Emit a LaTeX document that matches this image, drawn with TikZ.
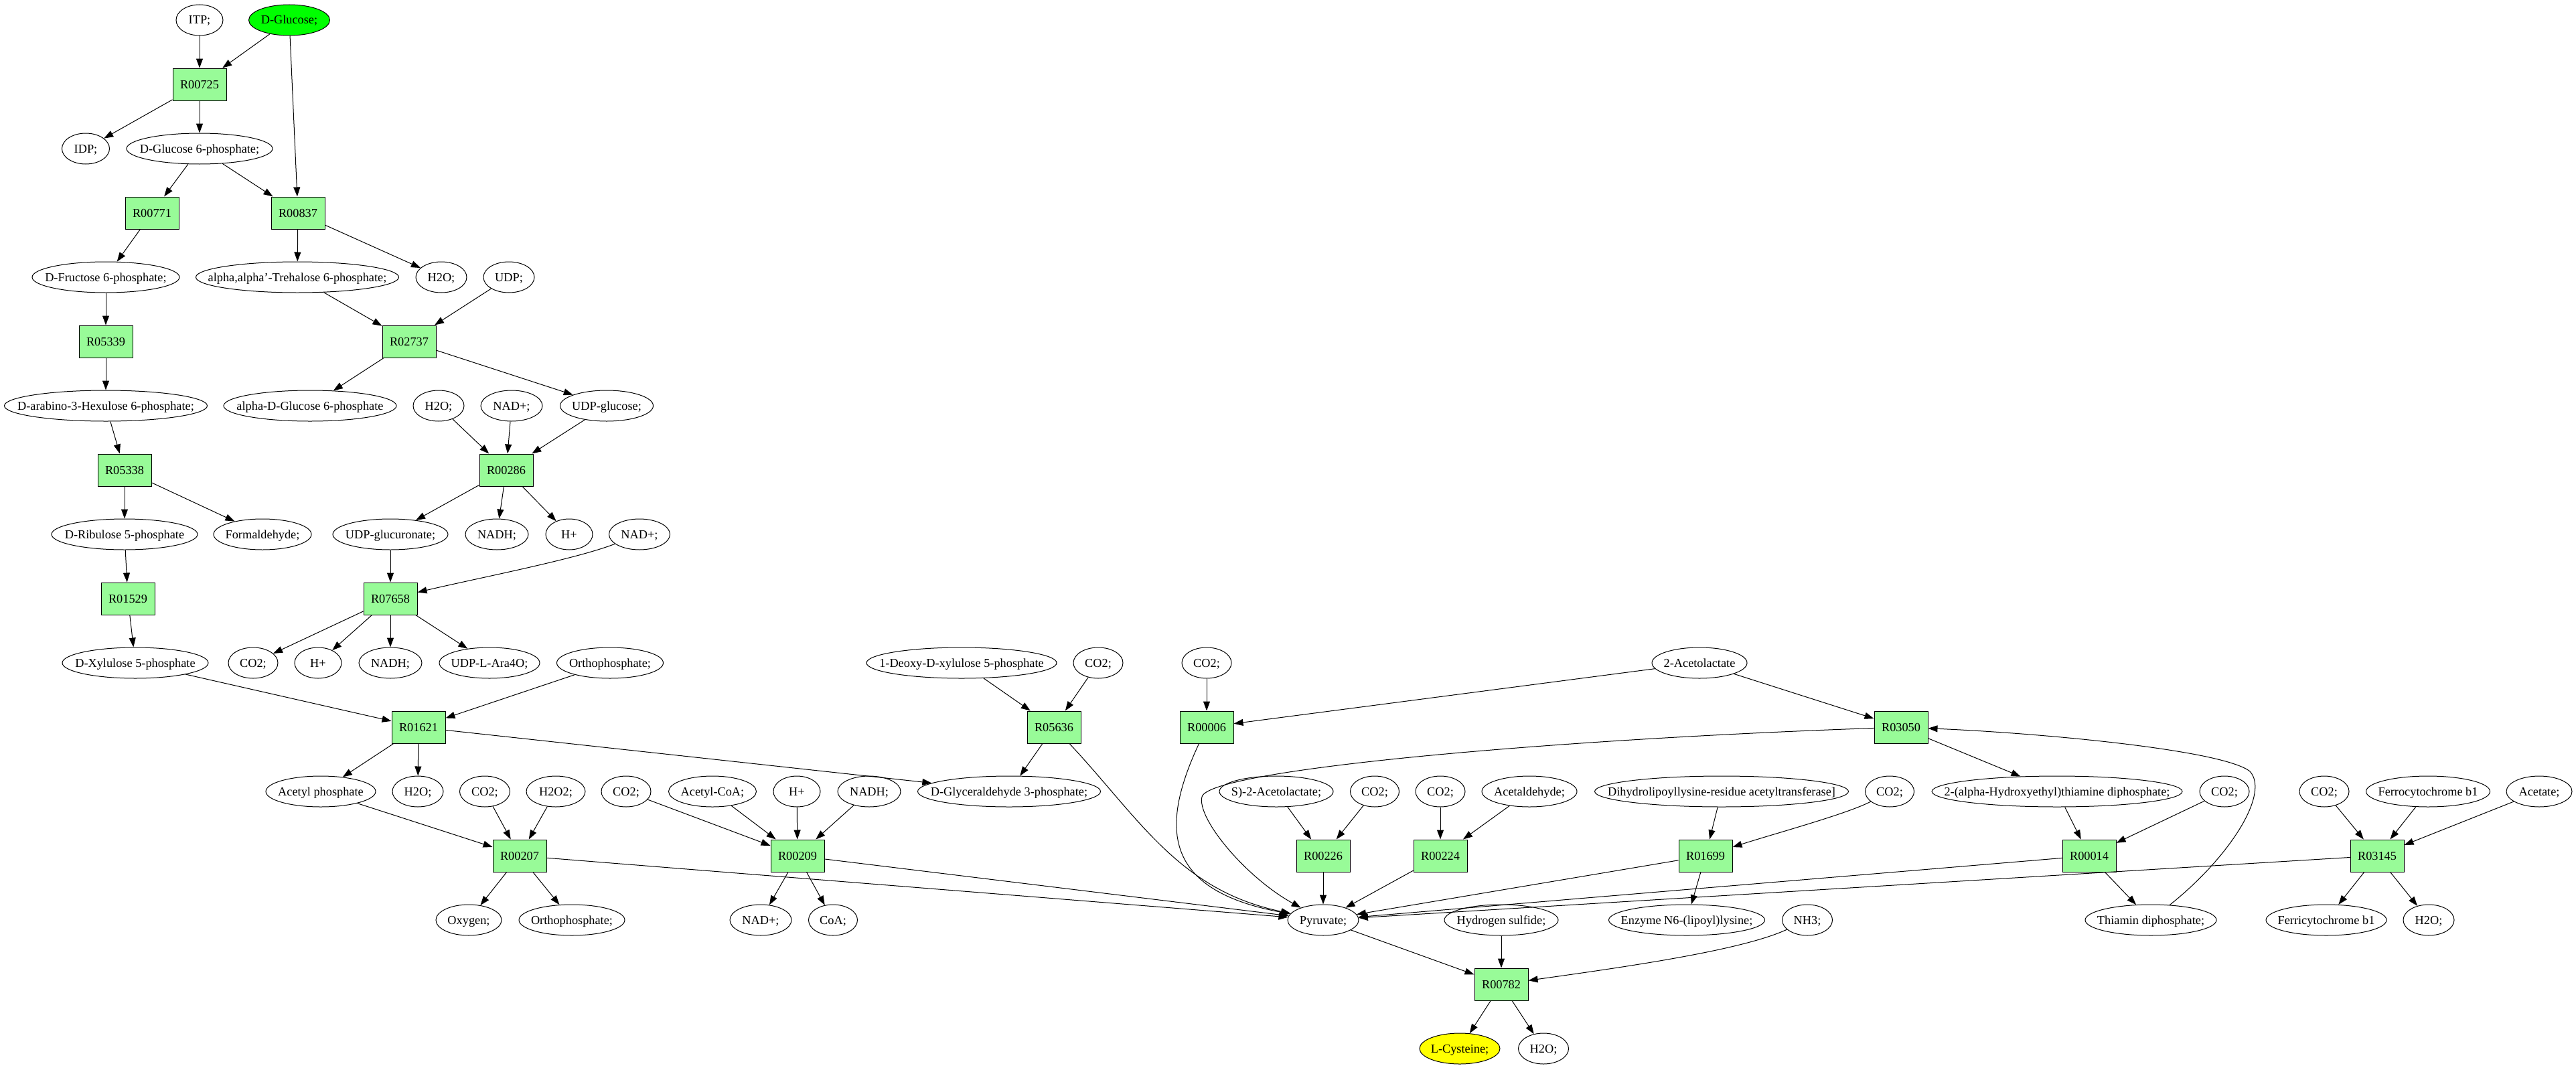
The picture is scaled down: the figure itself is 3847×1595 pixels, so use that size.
\documentclass[tikz,border=0pt]{standalone}
\usepackage{fontspec}
\setmainfont{Liberation Serif}
\usetikzlibrary{shapes.geometric,arrows.meta}
\definecolor{boxgreen}{HTML}{98FB98}
\definecolor{glc}{HTML}{00FF00}
\definecolor{cys}{HTML}{FFFF00}
\tikzset{
  met/.style={ellipse, draw, line width=1pt, minimum height=46pt, inner sep=0pt,
    text height=13pt, text depth=1pt, font=\fontsize{18.3}{20}\selectfont},
  rxn/.style={rectangle, draw, line width=1pt, fill=boxgreen, minimum width=80pt,
    minimum height=48pt, inner sep=0pt, text height=13pt, text depth=1pt,
    font=\fontsize{18.3}{20}\selectfont},
  arr/.style={-{Triangle[length=14pt,width=10pt]}, line width=1pt},
}
\newcommand{\metab}[5][]{\node[met,minimum width=#4pt,#1] (#2) at (#3) {\makebox[0pt]{#5}};}
\newcommand{\react}[2]{\node[rxn] (#1) at (#2) {#1};}
\begin{document}
\begin{tikzpicture}[x=1pt,y=-1pt]
\fill[white] (0,0) rectangle (3847,1595);
\path[use as bounding box] (0,0) rectangle (3847,1595);
% nodes
\metab{ITP}{298,30}{70}{ITP;}
\metab[fill=glc]{DGlc}{432,30}{121}{D-Glucose;}
\react{R00725}{298,126}
\metab{IDP}{128,222}{71}{IDP;}
\metab{DG6P}{298,222}{218}{D-Glucose 6-phosphate;}
\react{R00771}{227,318}
\react{R00837}{445,318}
\metab{DF6P}{158,414}{220}{D-Fructose 6-phosphate;}
\metab{Tre6P}{444,414}{303}{alpha,alpha'-Trehalose 6-phosphate;}
\metab{H2Oa}{659,414}{76}{H2O;}
\metab{UDP}{760,414}{76}{UDP;}
\react{R05339}{158,510}
\react{R02737}{611,510}
\metab{DA3H6P}{158,606}{303}{D-arabino-3-Hexulose 6-phosphate;}
\metab{aDG6P}{463,606}{258}{alpha-D-Glucose 6-phosphate}
\metab{H2Ob}{655,606}{76}{H2O;}
\metab{NADa}{764,606}{92}{NAD+;}
\metab{UDPG}{906,606}{139}{UDP-glucose;}
\react{R05338}{186,702}
\react{R00286}{756,702}
\metab{DRu5P}{186,798}{218}{D-Ribulose 5-phosphate}
\metab{HCHO}{392,798}{146}{Formaldehyde;}
\metab{UDPGA}{583,798}{172}{UDP-glucuronate;}
\metab{NADHa}{742,798}{94}{NADH;}
\metab{Ha}{850,798}{70}{H+}
\metab{NADb}{955,798}{91}{NAD+;}
\react{R01529}{191,894}
\react{R07658}{583,894}
\metab{DXu5P}{202,990}{218}{D-Xylulose 5-phosphate}
\metab{CO2a}{378,990}{74}{CO2;}
\metab{Hb}{475,990}{70}{H+}
\metab{NADHb}{583,990}{94}{NADH;}
\metab{UDPLA}{731,990}{150}{UDP-L-Ara4O;}
\metab{Pia}{911,990}{159}{Orthophosphate;}
\metab{DXP}{1436,990}{284}{1-Deoxy-D-xylulose 5-phosphate}
\metab{CO2b}{1640,990}{74}{CO2;}
\metab{CO2c}{1802,990}{74}{CO2;}
\metab{AcLac}{2538,990}{142}{2-Acetolactate}
\react{R01621}{625,1086}
\react{R05636}{1574,1086}
\react{R00006}{1802,1086}
\react{R03050}{2839,1086}
\metab{AcP}{479,1182}{164}{Acetyl phosphate}
\metab{H2Oc}{624,1182}{76}{H2O;}
\metab{CO2d}{724,1182}{75}{CO2;}
\metab{H2O2}{830,1182}{88}{H2O2;}
\metab{CO2e}{935,1182}{74}{CO2;}
\metab{AcCoA}{1064,1182}{131}{Acetyl-CoA;}
\metab{Hc}{1190,1182}{70}{H+}
\metab{NADHc}{1298,1182}{94}{NADH;}
\metab{GAP}{1507,1182}{273}{D-Glyceraldehyde 3-phosphate;}
\metab{SAcLac}{1906,1182}{170}{S)-2-Acetolactate;}
\metab{CO2f}{2053,1182}{73}{CO2;}
\metab{CO2g}{2151,1182}{74}{CO2;}
\metab{AcAld}{2284,1182}{142}{Acetaldehyde;}
\metab{DLT}{2571,1182}{379}{Dihydrolipoyllysine-residue acetyltransferase]}
\metab{CO2h}{2822,1182}{73}{CO2;}
\metab{HETPP}{3072,1182}{374}{2-(alpha-Hydroxyethyl)thiamine diphosphate;}
\metab{CO2i}{3322,1182}{74}{CO2;}
\metab{CO2j}{3471,1182}{74}{CO2;}
\metab{Ferro}{3626,1182}{185}{Ferrocytochrome b1}
\metab{Acet}{3792,1182}{98}{Acetate;}
\react{R00207}{776,1278}
\react{R00209}{1191,1278}
\react{R00226}{1976,1278}
\react{R00224}{2151,1278}
\react{R01699}{2547,1278}
\react{R00014}{3120,1278}
\react{R03145}{3550,1278}
\metab{O2}{700,1374}{98}{Oxygen;}
\metab{Pib}{854,1374}{158}{Orthophosphate;}
\metab{NADc}{1136,1374}{92}{NAD+;}
\metab{CoA}{1244,1374}{73}{CoA;}
\metab{Pyr}{1976,1374}{106}{Pyruvate;}
\metab{H2S}{2242,1374}{170}{Hydrogen sulfide;}
\metab{EN6}{2519,1374}{233}{Enzyme N6-(lipoyl)lysine;}
\metab{NH3}{2699,1374}{75}{NH3;}
\metab{TPP}{3212,1374}{196}{Thiamin diphosphate;}
\metab{Ferri}{3474,1374}{180}{Ferricytochrome b1}
\metab{H2Od}{3627,1374}{76}{H2O;}
\react{R00782}{2242,1470}
\metab[fill=cys]{LCys}{2180,1566}{120}{L-Cysteine;}
\metab{H2Oe}{2305,1566}{75}{H2O;}
% edges
\draw[arr] (ITP) -- (R00725);
\draw[arr] (DGlc) -- (R00725);
\draw[arr] (DGlc) -- (R00837);
\draw[arr] (R00725) -- (IDP);
\draw[arr] (R00725) -- (DG6P);
\draw[arr] (DG6P) -- (R00771);
\draw[arr] (DG6P) -- (R00837);
\draw[arr] (R00771) -- (DF6P);
\draw[arr] (R00837) -- (Tre6P);
\draw[arr] (R00837) -- (H2Oa);
\draw[arr] (DF6P) -- (R05339);
\draw[arr] (Tre6P) -- (R02737);
\draw[arr] (UDP) -- (R02737);
\draw[arr] (R05339) -- (DA3H6P);
\draw[arr] (R02737) -- (aDG6P);
\draw[arr] (R02737) -- (UDPG);
\draw[arr] (DA3H6P) -- (R05338);
\draw[arr] (H2Ob) -- (R00286);
\draw[arr] (NADa) -- (R00286);
\draw[arr] (UDPG) -- (R00286);
\draw[arr] (R05338) -- (DRu5P);
\draw[arr] (R05338) -- (HCHO);
\draw[arr] (R00286) -- (UDPGA);
\draw[arr] (R00286) -- (NADHa);
\draw[arr] (R00286) -- (Ha);
\draw[arr] (DRu5P) -- (R01529);
\draw[arr] (UDPGA) -- (R07658);
\draw[arr] (NADb) .. controls (860,835) and (720,862) .. (R07658);
\draw[arr] (R01529) -- (DXu5P);
\draw[arr] (R07658) -- (CO2a);
\draw[arr] (R07658) -- (Hb);
\draw[arr] (R07658) -- (NADHb);
\draw[arr] (R07658) -- (UDPLA);
\draw[arr] (DXu5P) -- (R01621);
\draw[arr] (Pia) -- (R01621);
\draw[arr] (R01621) -- (AcP);
\draw[arr] (R01621) -- (H2Oc);
\draw[arr] (R01621) -- (GAP);
\draw[arr] (DXP) -- (R05636);
\draw[arr] (CO2b) -- (R05636);
\draw[arr] (R05636) -- (GAP);
\draw[arr] (R05636) .. controls (1700,1220) and (1760,1330) .. (Pyr);
\draw[arr] (CO2c) -- (R00006);
\draw[arr] (AcLac) -- (R00006);
\draw[arr] (R00006) .. controls (1730,1240) and (1740,1330) .. (Pyr);
\draw[arr] (AcLac) -- (R03050);
\draw[arr] (R03050) .. controls (2300,1105) and (1805,1150) .. (1795,1190)
   .. controls (1787,1222) and (1860,1310) .. (Pyr);
\draw[arr] (R03050) -- (HETPP);
\draw[arr] (TPP) .. controls (3330,1280) and (3390,1185) .. (3360,1152)
   .. controls (3320,1120) and (3050,1095) .. (R03050);
\draw[arr] (AcP) -- (R00207);
\draw[arr] (CO2d) -- (R00207);
\draw[arr] (H2O2) -- (R00207);
\draw[arr] (R00207) -- (O2);
\draw[arr] (R00207) -- (Pib);
\draw[arr] (R00207) -- (Pyr);
\draw[arr] (CO2e) -- (R00209);
\draw[arr] (AcCoA) -- (R00209);
\draw[arr] (Hc) -- (R00209);
\draw[arr] (NADHc) -- (R00209);
\draw[arr] (R00209) -- (NADc);
\draw[arr] (R00209) -- (CoA);
\draw[arr] (R00209) -- (Pyr);
\draw[arr] (SAcLac) -- (R00226);
\draw[arr] (CO2f) -- (R00226);
\draw[arr] (R00226) -- (Pyr);
\draw[arr] (CO2g) -- (R00224);
\draw[arr] (AcAld) -- (R00224);
\draw[arr] (R00224) -- (Pyr);
\draw[arr] (DLT) -- (R01699);
\draw[arr] (CO2h) .. controls (2760,1215) and (2650,1245) .. (R01699);
\draw[arr] (R01699) -- (Pyr);
\draw[arr] (R01699) -- (EN6);
\draw[arr] (HETPP) -- (R00014);
\draw[arr] (CO2i) -- (R00014);
\draw[arr] (R00014) -- (Pyr);
\draw[arr] (R00014) -- (TPP);
\draw[arr] (CO2j) -- (R03145);
\draw[arr] (Ferro) -- (R03145);
\draw[arr] (Acet) -- (R03145);
\draw[arr] (R03145) -- (Pyr);
\draw[arr] (R03145) -- (Ferri);
\draw[arr] (R03145) -- (H2Od);
\draw[arr] (Pyr) -- (R00782);
\draw[arr] (H2S) -- (R00782);
\draw[arr] (NH3) .. controls (2600,1420) and (2420,1445) .. (R00782);
\draw[arr] (R00782) -- (LCys);
\draw[arr] (R00782) -- (H2Oe);
\end{tikzpicture}
\end{document}
